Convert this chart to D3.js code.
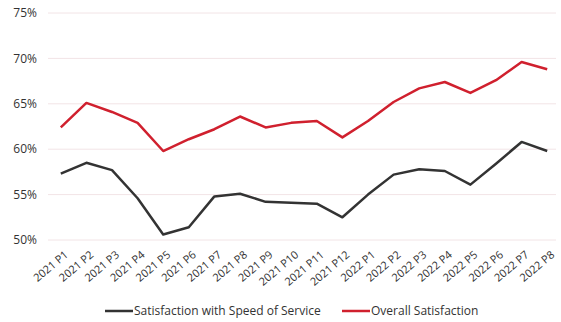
<!DOCTYPE html>
<html><head><meta charset="utf-8">
<script src="https://cdn.jsdelivr.net/npm/d3@7"></script>
<style>body{margin:0;background:#fff;}svg{display:block;font-family:"Open Sans",sans-serif;}</style>
</head><body>
<svg id="c" width="561" height="322"></svg>
<script>
const categories = ["2021 P1","2021 P2","2021 P3","2021 P4","2021 P5","2021 P6","2021 P7","2021 P8","2021 P9","2021 P10","2021 P11","2021 P12","2022 P1","2022 P2","2022 P3","2022 P4","2022 P5","2022 P6","2022 P7","2022 P8"];
const speedValues = [57.3,58.5,57.7,54.6,50.6,51.4,54.8,55.1,54.2,54.1,54.0,52.5,55.0,57.2,57.8,57.6,56.1,58.4,60.8,59.8];
const overallValues = [62.4,65.1,64.1,62.9,59.8,61.1,62.2,63.6,62.4,62.9,63.1,61.3,63.1,65.2,66.7,67.4,66.2,67.6,69.6,68.8];
const yTicks = [50,55,60,65,70,75];
const seriesNames = ["Satisfaction with Speed of Service","Overall Satisfaction"];
const colors = ["#333333","#d0202e"];

const svg = d3.select("#c");
const m = {l:48, r:1, t:13, b:82};
const W = 561, H = 322;
const x = d3.scaleBand().domain(categories).range([m.l, W - m.r]);
const y = d3.scaleLinear().domain([50,75]).range([H - m.b, m.t]);

svg.append("g").selectAll("line").data(yTicks).join("line")
  .attr("x1", m.l).attr("x2", 556)
  .attr("y1", d => y(d)).attr("y2", d => y(d))
  .attr("stroke", "#f2e4e6").attr("stroke-width", 1);

svg.append("g").selectAll("text").data(yTicks).join("text")
  .attr("x", 37).attr("y", d => y(d)).attr("dy", "0.35em")
  .attr("text-anchor", "end").attr("font-size", 12).attr("fill", "#333")
  .text(d => d + "%");

svg.append("g").selectAll("text").data(categories).join("text")
  .attr("transform", d => `translate(${x(d) + x.bandwidth()/2 + 3},${H - m.b + 10}) rotate(-40)`)
  .attr("text-anchor", "end").attr("dy", "0.71em").attr("font-size", 11).attr("fill", "#333")
  .text(d => d);

const line = d3.line().x((d,i) => x(categories[i]) + x.bandwidth()/2).y(d => y(d));
[speedValues, overallValues].forEach((vals, k) => {
  svg.append("path").datum(vals).attr("d", line)
    .attr("fill", "none").attr("stroke", colors[k]).attr("stroke-width", 2.5)
    .attr("stroke-linejoin", "round");
});

const legX = [105, 342];
seriesNames.forEach((n, k) => {
  const g = svg.append("g").attr("transform", `translate(${legX[k]},311)`);
  g.append("line").attr("x1", 0).attr("x2", 28).attr("stroke", colors[k]).attr("stroke-width", 2.5);
  g.append("text").attr("x", 29).attr("dy", "0.35em").attr("font-size", 12).attr("fill", "#333").text(n);
});
</script>
</body></html>
